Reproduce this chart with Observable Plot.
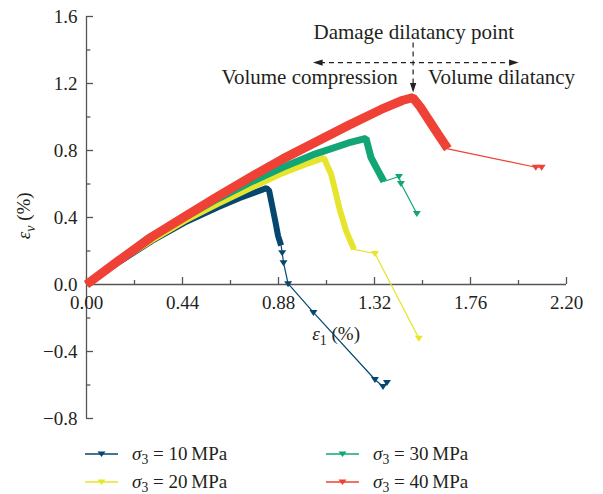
<!DOCTYPE html>
<html><head><meta charset="utf-8">
<script src="https://cdn.jsdelivr.net/npm/d3@7"></script>
<script src="https://cdn.jsdelivr.net/npm/@observablehq/plot@0.6"></script>
<style>
body{margin:0;background:#fff;}
#chart{width:603px;height:494px;position:relative;font-family:"Liberation Serif","DejaVu Serif",serif;color:#231f20;}
#legend{position:absolute;left:0;top:430px;width:603px;height:64px;}
.item{position:absolute;height:28px;display:flex;align-items:center;font-size:19px;white-space:nowrap;}
.item svg{margin-right:14px;}
.item sub{font-size:0.72em;vertical-align:-0.3em;line-height:0;}
</style></head><body><div id="chart"><div id="legend"></div></div>
<script>
// ---- data ----
const confining = ["10", "20", "30", "40"]; // sigma_3 in MPa

// densely recorded segment (pre-peak + steep post-peak), [eps1 %, epsv %]
const dense10 = [[0,0],[0.15,0.135],[0.30,0.26],[0.45,0.37],[0.60,0.46],[0.70,0.515],[0.825,0.575],[0.837,0.56],[0.851,0.47],[0.865,0.38],[0.878,0.29],[0.892,0.233]];
const tail10  = [[0.897,0.19],[0.903,0.13],[0.924,0.005],[1.04,-0.167],[1.322,-0.567],[1.359,-0.609],[1.377,-0.585]];

const dense20 = [[0,0],[0.15,0.14],[0.30,0.265],[0.45,0.38],[0.60,0.48],[0.75,0.575],[0.90,0.665],[1.00,0.715],[1.089,0.755],[1.10,0.72],[1.121,0.66],[1.14,0.56],[1.16,0.45],[1.19,0.32],[1.226,0.21]];
const tail20  = [[1.322,0.185],[1.523,-0.32]];

const dense30 = [[0,0],[0.15,0.145],[0.28,0.275],[0.30,0.29],[0.45,0.40],[0.60,0.51],[0.75,0.61],[0.90,0.70],[1.05,0.78],[1.20,0.845],[1.281,0.872],[1.304,0.758],[1.336,0.68],[1.363,0.615]];
const tail30  = [[1.432,0.645],[1.441,0.603],[1.514,0.424]];

const dense40 = [[0,0],[0.15,0.145],[0.30,0.285],[0.45,0.405],[0.60,0.525],[0.75,0.64],[0.90,0.75],[1.05,0.85],[1.20,0.95],[1.35,1.045],[1.45,1.10],[1.496,1.115],[1.53,1.06],[1.565,0.99],[1.61,0.90],[1.656,0.81]];
const tail40  = [[2.059,0.70],[2.086,0.70]];

const xTicks = [0, 0.44, 0.88, 1.32, 1.76, 2.20];
const xMinor = [0.22, 0.66, 1.10, 1.54, 1.98];
const yTicks = [-0.8, -0.4, 0, 0.4, 0.8, 1.2, 1.6];
const yMinor = [-0.6, -0.2, 0.2, 0.6, 1.0, 1.4];

// ---- styles ----
const colors = ["#05476f", "#e6e52b", "#12a676", "#ef4135"];
const bandWidths = [6, 6, 7, 9];
const axisColor = "#555";
const textColor = "#231f20";

const triDown = {draw(ctx, size){const r=Math.sqrt(size/Math.PI);ctx.moveTo(-r,-0.6*r);ctx.lineTo(r,-0.6*r);ctx.lineTo(0,0.9*r);ctx.closePath();}};
const headDown = {draw(ctx, size){const r=Math.sqrt(size/Math.PI);ctx.moveTo(0,0);ctx.lineTo(-0.75*r,-2.3*r);ctx.lineTo(0.75*r,-2.3*r);ctx.closePath();}};
const headLeft = {draw(ctx, size){const r=Math.sqrt(size/Math.PI);ctx.moveTo(0,0);ctx.lineTo(2.3*r,-0.75*r);ctx.lineTo(2.3*r,0.75*r);ctx.closePath();}};
const headRight = {draw(ctx, size){const r=Math.sqrt(size/Math.PI);ctx.moveTo(0,0);ctx.lineTo(-2.3*r,-0.75*r);ctx.lineTo(-2.3*r,0.75*r);ctx.closePath();}};

const denseSets = [dense10, dense20, dense30, dense40];
const tailSets = [tail10, tail20, tail30, tail40];

const fmtX = d => d.toFixed(2);
const fmtY = d => (d < 0 ? "\u2212" : "") + Math.abs(d).toFixed(1);
const px = d => d[0], py = d => d[1];

const seriesMarks = [];
denseSets.forEach((dense, i) => {
  const tail = tailSets[i];
  seriesMarks.push(Plot.line([dense[dense.length-1], ...tail], {x: px, y: py, stroke: colors[i], strokeWidth: 1.2}));
  seriesMarks.push(Plot.dot(tail, {x: px, y: py, symbol: triDown, r: 4, fill: colors[i], stroke: "none"}));
  seriesMarks.push(Plot.line(dense, {x: px, y: py, stroke: colors[i], strokeWidth: bandWidths[i], strokeLinejoin: "miter", strokeLinecap: "butt"}));
});

const svg = Plot.plot({
  width: 603, height: 430,
  marginLeft: 86, marginRight: 37, marginTop: 16, marginBottom: 12,
  x: {domain: [0, 2.2], axis: null},
  y: {domain: [-0.8, 1.6], axis: null},
  style: {fontFamily: '"Liberation Serif","DejaVu Serif",serif', fontSize: "19px", color: textColor, background: "white", overflow: "visible"},
  marks: [
    Plot.ruleY([0], {x1: 0, x2: 2.2, stroke: axisColor, strokeWidth: 1.3}),
    Plot.ruleX([0], {y1: -0.8, y2: 1.6, stroke: axisColor, strokeWidth: 1.3}),
    Plot.ruleX(xTicks, {y1: 0, y2: 0.042, stroke: axisColor, strokeWidth: 1.3}),
    Plot.ruleX(xMinor, {y1: 0, y2: 0.024, stroke: axisColor, strokeWidth: 1.3}),
    Plot.ruleY(yTicks, {x1: 0, x2: 0.032, stroke: axisColor, strokeWidth: 1.3}),
    Plot.ruleY(yMinor, {x1: 0, x2: 0.02, stroke: axisColor, strokeWidth: 1.3}),
    Plot.text(xTicks, {x: d => d, y: 0, dy: 18, text: fmtX, fill: textColor}),
    Plot.text(yTicks, {x: 0, y: d => d, dx: -9, textAnchor: "end", text: fmtY, fill: textColor}),
    Plot.text(["ε1 (%)"], {x: 1.144, y: -0.293, text: d => d, fill: textColor}),
    Plot.text(["εv (%)"], {x: -0.288, y: 0.41, rotate: -90, text: d => d, fill: textColor}),
    ...seriesMarks,
    // annotation
    Plot.link([0], {x1: 1.497, x2: 1.497, y1: 1.445, y2: 1.19, stroke: "#222", strokeWidth: 1.2, strokeDasharray: "5,4"}),
    Plot.link([0], {x1: 1.07, x2: 1.95, y1: 1.325, y2: 1.325, stroke: "#222", strokeWidth: 1.2, strokeDasharray: "5,4"}),
    Plot.dot([[1.497, 1.146]], {x: px, y: py, symbol: headDown, r: 4.2, fill: "#222", stroke: "none"}),
    Plot.dot([[1.038, 1.325]], {x: px, y: py, symbol: headLeft, r: 4.2, fill: "#222", stroke: "none"}),
    Plot.dot([[1.981, 1.325]], {x: px, y: py, symbol: headRight, r: 4.2, fill: "#222", stroke: "none"}),
    Plot.text(["Damage dilatancy point"], {x: 1.5, y: 1.504, text: d => d, fontSize: 21, fill: textColor}),
    Plot.text(["Volume compression"], {x: 1.427, y: 1.236, textAnchor: "end", text: d => d, fontSize: 21, fill: textColor}),
    Plot.text(["Volume dilatancy"], {x: 1.565, y: 1.236, textAnchor: "start", text: d => d, fontSize: 21, fill: textColor})
  ]
});

// subscripts in axis labels
d3.select(svg).selectAll("text").each(function(){
  const t = this.textContent;
  if (t === "ε1 (%)" || t === "εv (%)") {
    const sub = t[1];
    this.textContent = "";
    const s = d3.select(this);
    s.append("tspan").attr("font-style", "italic").text("ε");
    s.append("tspan").attr("font-size", "14px").attr("dy", "5px").attr("font-style", sub === "v" ? "italic" : null).text(sub);
    s.append("tspan").attr("dy", "-5px").text(" (%)");
  }
});

const chart = document.getElementById("chart");
chart.insertBefore(svg, chart.firstChild);

// legend
const legend = document.getElementById("legend");
const pos = [[85, 10], [85, 38], [326, 10], [326, 38]];
confining.forEach((c, i) => {
  const item = document.createElement("div");
  item.className = "item";
  item.style.left = pos[i][0] + "px";
  item.style.top = pos[i][1] + "px";
  item.innerHTML = `<svg width="33" height="12"><line x1="0" y1="6" x2="33" y2="6" stroke="${colors[i]}" stroke-width="1.6"/><path d="M12.5,3.5 L20.5,3.5 L16.5,9 Z" fill="${colors[i]}"/></svg><span><i>σ</i><sub>3</sub> = ${c}\u2009MPa</span>`;
  legend.appendChild(item);
});
</script></body></html>
